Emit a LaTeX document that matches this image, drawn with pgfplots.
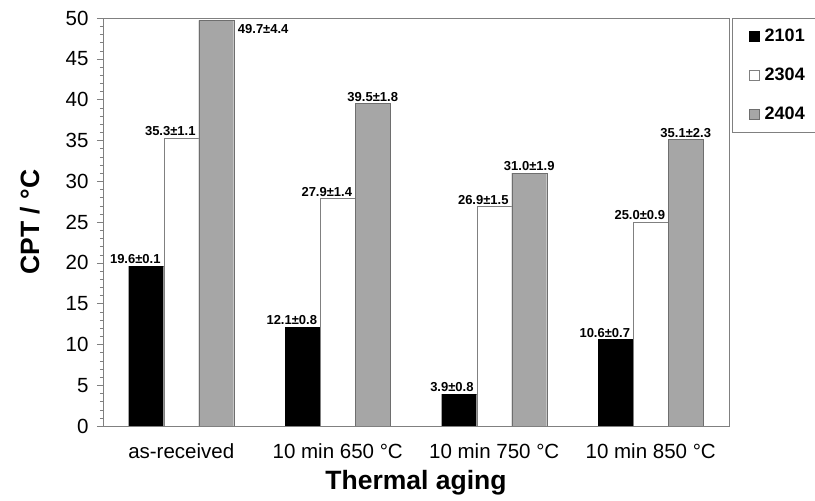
\documentclass[border=0pt]{standalone}
\usepackage{pgfplots}
\pgfplotsset{compat=1.18}
\usepackage{fontspec}
\setmainfont{Liberation Sans}
\definecolor{axisgray}{HTML}{808080}
\definecolor{barfill}{HTML}{A6A6A6}
\definecolor{baredge}{HTML}{6E6E6E}
\newcommand{\ticksize}{\fontsize{20.5}{24}\selectfont}
\newcommand{\valsize}{\bfseries\fontsize{13}{15}\selectfont}
\begin{document}
\begin{tikzpicture}
\begin{axis}[
  at={(103pt,75pt)}, anchor=south west,
  scale only axis,
  width=626pt, height=408pt,
  ybar=0pt, bar width=35pt,
  xmin=-0.5, xmax=3.5,
  ymin=0, ymax=50,
  xtick={0,1,2,3},
  xticklabels={as-received,10 min 650 °C,10 min 750 °C,10 min 850 °C},
  major x tick style={draw=none},
  extra x ticks={-0.5,0.5,1.5,2.5,3.5},
  extra x tick labels={},
  extra x tick style={major tick length=6pt, tick style={draw=axisgray}},
  ytick={0,5,...,50},
  minor y tick num=4,
  xtick pos=bottom, ytick pos=left,
  tick align=outside,
  major tick length=6pt, minor tick length=3pt,
  tick style={axisgray},
  axis line style={axisgray},
  /pgf/number format/assume math mode=true,
  tick label style={font=\ticksize},
  x tick label style={anchor=base, yshift=-27pt},
  y tick label style={xshift=-5pt},
  ylabel={\bfseries CPT / °C},
  xlabel={\bfseries Thermal aging},
  label style={font=\fontsize{26.5}{30}\selectfont},
  y label style={at={(axis description cs:-0.117,0.5)}, anchor=center},
  x label style={at={(axis description cs:0.5,0)}, anchor=center, yshift=-57pt},
  nodes near coords,
  point meta=explicit symbolic,
  legend style={at={(1.005,1)}, anchor=north west, draw=axisgray,
    font=\bfseries\fontsize{18}{21}\selectfont, row sep=21pt,
    inner xsep=17pt, inner ysep=9pt},
  legend cell align=left,
  legend image code/.code={\draw[#1] (0pt,-5pt) rectangle (10pt,5pt); \path (13pt,0pt);},
]
\addplot[fill=black, draw=black,
  every node near coord/.append style={anchor=south east, xshift=15.5pt, yshift=1pt, inner sep=1pt, font=\valsize}]
  coordinates {(0,19.6) [19.6±0.1] (1,12.1) [12.1±0.8] (2,3.9) [3.9±0.8] (3,10.6) [10.6±0.7]};
\addlegendentry{2101}
\addplot[fill=white, draw=axisgray,
  every node near coord/.append style={anchor=south east, xshift=15.5pt, yshift=1pt, inner sep=1pt, font=\valsize}]
  coordinates {(0,35.3) [35.3±1.1] (1,27.9) [27.9±1.4] (2,26.9) [26.9±1.5] (3,25.0) [25.0±0.9]};
\addlegendentry{2304}
\addplot[fill=barfill, draw=baredge,
  every node near coord/.append style={anchor=south, yshift=1pt, inner sep=1pt, font=\valsize}]
  coordinates {(0,49.7) [{}] (1,39.5) [39.5±1.8] (2,31.0) [31.0±1.9] (3,35.1) [35.1±2.3]};
\addlegendentry{2404}
\node[anchor=north west, inner sep=0pt, font=\valsize, xshift=56.5pt, yshift=-4pt] at (axis cs:0,49.7) {49.7±4.4};
\end{axis}
\pgfresetboundingbox
\path[use as bounding box] (0,0) rectangle (815pt,501pt);
\end{tikzpicture}
\end{document}
